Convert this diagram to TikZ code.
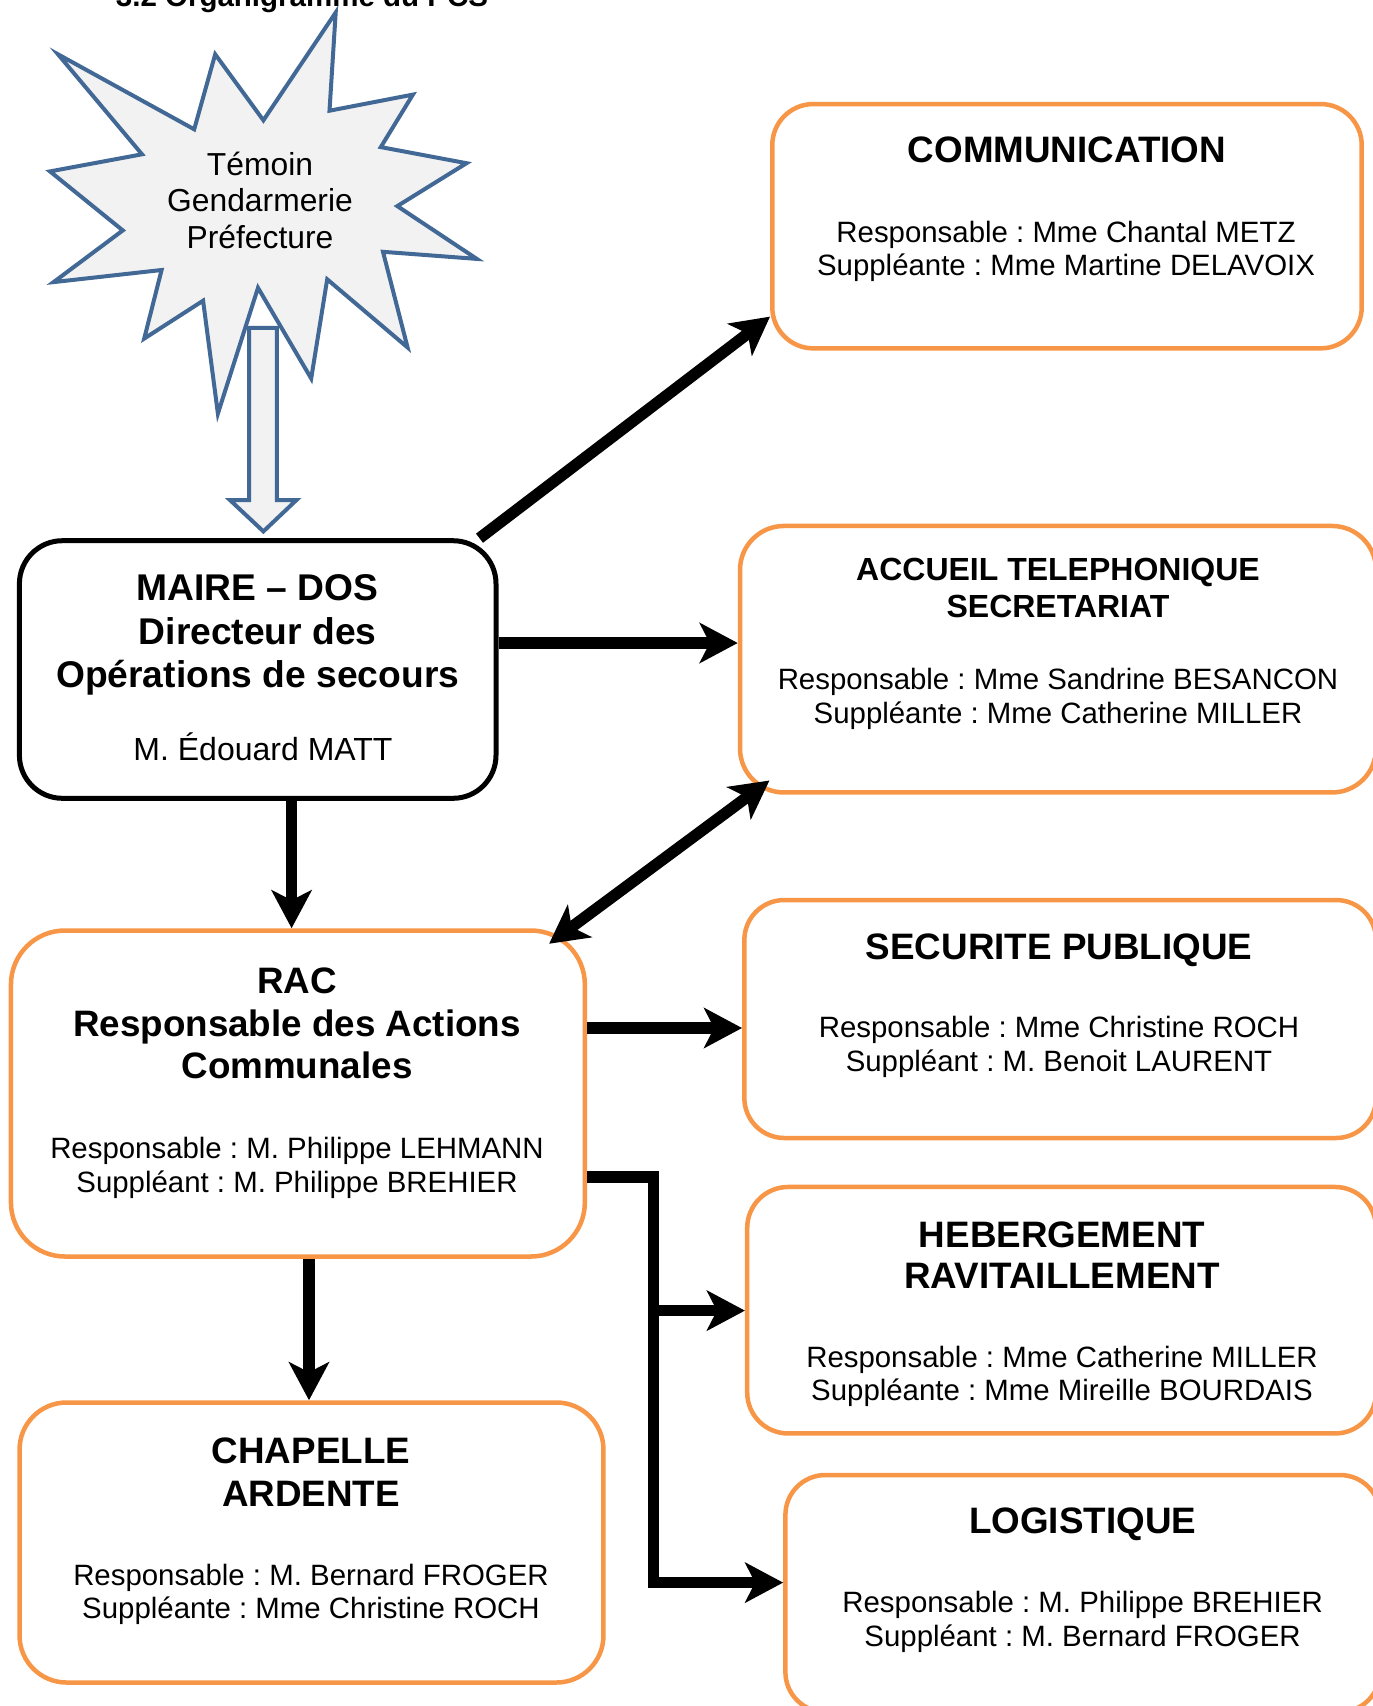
\documentclass[tikz,border=0pt]{standalone}
\usepackage{fontspec}
\setmainfont{Liberation Sans}
\frenchspacing
\usetikzlibrary{arrows.meta,calc}
\definecolor{orangeb}{HTML}{F79646}
\definecolor{starblue}{RGB}{66,104,150}
\definecolor{stargray}{HTML}{F2F2F2}
\tikzset{
  obox/.style={draw=orangeb, line width=4.5pt, fill=white, rectangle, inner sep=0pt},
  kbox/.style={draw=black, line width=5pt, fill=white, rectangle, inner sep=0pt},
  conn/.style={line width=11.5pt, -{Stealth[length=38pt,width=40pt,inset=10pt]}},
  dconn/.style={line width=11.5pt, {Stealth[length=38pt,width=40pt,inset=10pt]}-{Stealth[length=38pt,width=40pt,inset=10pt]}},
  ttl/.style={font=\fontsize{36.8}{42.5}\selectfont\bfseries, align=center, inner sep=0pt},
  txt/.style={font=\fontsize{29.4}{33.5}\selectfont, align=center, inner sep=0pt},
}
\begin{document}
\begin{tikzpicture}[x=1pt,y=-1pt]
\useasboundingbox (0,0) rectangle (1373,1706);

% cut-off heading
\node[font=\fontsize{29.5}{34}\selectfont\bfseries, anchor=base west, inner sep=0pt] (heading) at (115.7,6) {3.2 Organigramme du PCS};

% star
\draw[starblue, line width=4pt, fill=stargray, line join=miter]
  (58.0,54.3) -- (194.2,129.3) -- (215.2,54.3) -- (263.4,120.3) -- (335.7,12.5)
  -- (329.5,110.7) -- (412.9,94.6) -- (380.8,147.1) -- (466.5,163.2) -- (397.3,206.1)
  -- (476.8,258.9) -- (383.0,251.8) -- (407.6,347.5) -- (327.2,279.3) -- (311.2,378.5)
  -- (258.0,287.8) -- (217.9,413.6) -- (203.1,300.7) -- (144.2,338.6) -- (161.6,270.0)
  -- (53.6,282.1) -- (122.8,230.4) -- (50.0,171.4) -- (142.0,154.3) -- cycle;
\node[font=\fontsize{31.8}{36.5}\selectfont, align=center, inner sep=0pt] (star) at (260,200) {Témoin\\Gendarmerie\\Préfecture};

% hollow arrow
\draw[starblue, line width=4pt, fill=stargray, line join=miter]
  (249.1,327.8) -- (249.1,500) -- (229.9,500) -- (263.4,531.4) -- (296.5,500)
  -- (276.8,500) -- (276.8,327.8) -- cycle;

% boxes
\node[kbox, minimum width=476.6pt, minimum height=257.6pt, rounded corners=43pt] (maire) at (257.7,669.5) {};
\node[obox, minimum width=589.4pt, minimum height=244.3pt, rounded corners=41pt] (comm) at (1067,226.2) {};
\node[obox, minimum width=636pt, minimum height=266.5pt, rounded corners=44pt] (accueil) at (1058,659.2) {};
\node[obox, minimum width=631.7pt, minimum height=238pt, rounded corners=40pt] (secu) at (1060.2,1019) {};
\node[obox, minimum width=628.8pt, minimum height=246.5pt, rounded corners=41pt] (heb) at (1061.6,1310.2) {};
\node[obox, minimum width=594.6pt, minimum height=237pt, rounded corners=40pt] (logi) at (1082.7,1593.5) {};
\node[obox, minimum width=573.9pt, minimum height=326pt, rounded corners=54pt] (rac) at (297.9,1093.5) {};
\node[obox, minimum width=583.9pt, minimum height=280pt, rounded corners=47pt] (chap) at (311.5,1542.5) {};

% connectors
\draw[conn] ([xshift=-19pt]maire.north east) -- ([yshift=34pt]comm.south west);
\draw[conn] (maire.east |- 0,643) -- (accueil.west |- 0,643);
\draw[conn] (maire.south -| 291.6,0) -- (rac.north -| 291.6,0);
\draw[dconn] ([xshift=-38pt,yshift=-15.5pt]rac.north east) -- ([xshift=31.7pt,yshift=14.2pt]accueil.south west);
\draw[conn] (rac.east |- 0,1028) -- (secu.west |- 0,1028);
\draw[conn] (rac.south -| 309,0) -- (chap.north -| 309,0);
\coordinate (j1) at (653.5,1177);
\coordinate (j2) at (653.5,1310.6);
\coordinate (j3) at (653.5,1582.6);
\draw[conn, line join=miter] (rac.east |- j1) -- (j1) -- (j3) -- (logi.west |- j3);
\draw[conn] (j2) -- (heb.west |- j2);

% texts
\node[ttl, font=\fontsize{37.2}{43.5}\selectfont\bfseries] (mairet) at (257.7,635) {MAIRE – DOS\\Directeur des\\Opérations de secours};
\node[txt, font=\fontsize{32}{36}\selectfont] (mairen) at (263,747) {M. Édouard MATT};

\node[ttl] (commt) at (1067,150) {COMMUNICATION};
\node[txt] (commn) at (1066,251.4) {Responsable : Mme Chantal METZ\\Suppléante : Mme Martine DELAVOIX};

\node[ttl, font=\fontsize{32}{37}\selectfont\bfseries] (accueilt) at (1058,587.5) {ACCUEIL TELEPHONIQUE\\SECRETARIAT};
\node[txt] (accueiln) at (1058,699) {Responsable : Mme Sandrine BESANCON\\Suppléante : Mme Catherine MILLER};

\node[ttl] (secut) at (1059,950) {SECURITE PUBLIQUE};
\node[txt] (secun) at (1059,1047) {Responsable : Mme Christine ROCH\\Suppléant : M. Benoit LAURENT};

\node[ttl, font=\fontsize{36.8}{41.5}\selectfont\bfseries] (hebt) at (1062,1255) {HEBERGEMENT\\RAVITAILLEMENT};
\node[txt] (hebn) at (1062,1376.5) {Responsable : Mme Catherine MILLER\\Suppléante : Mme Mireille BOURDAIS};

\node[ttl] (logit) at (1082.6,1524) {LOGISTIQUE};
\node[txt] (login) at (1082.6,1622) {Responsable : M. Philippe BREHIER\\Suppléant : M. Bernard FROGER};

\node[ttl] (ract) at (297,1023.5) {RAC\\Responsable des Actions\\Communales};
\node[txt] (racn) at (297,1167.7) {Responsable : M. Philippe LEHMANN\\Suppléant : M. Philippe BREHIER};

\node[ttl] (chapt) at (311,1472) {CHAPELLE\\ARDENTE};
\node[txt] (chapn) at (311,1594.2) {Responsable : M. Bernard FROGER\\Suppléante : Mme Christine ROCH};
\end{tikzpicture}
\end{document}
